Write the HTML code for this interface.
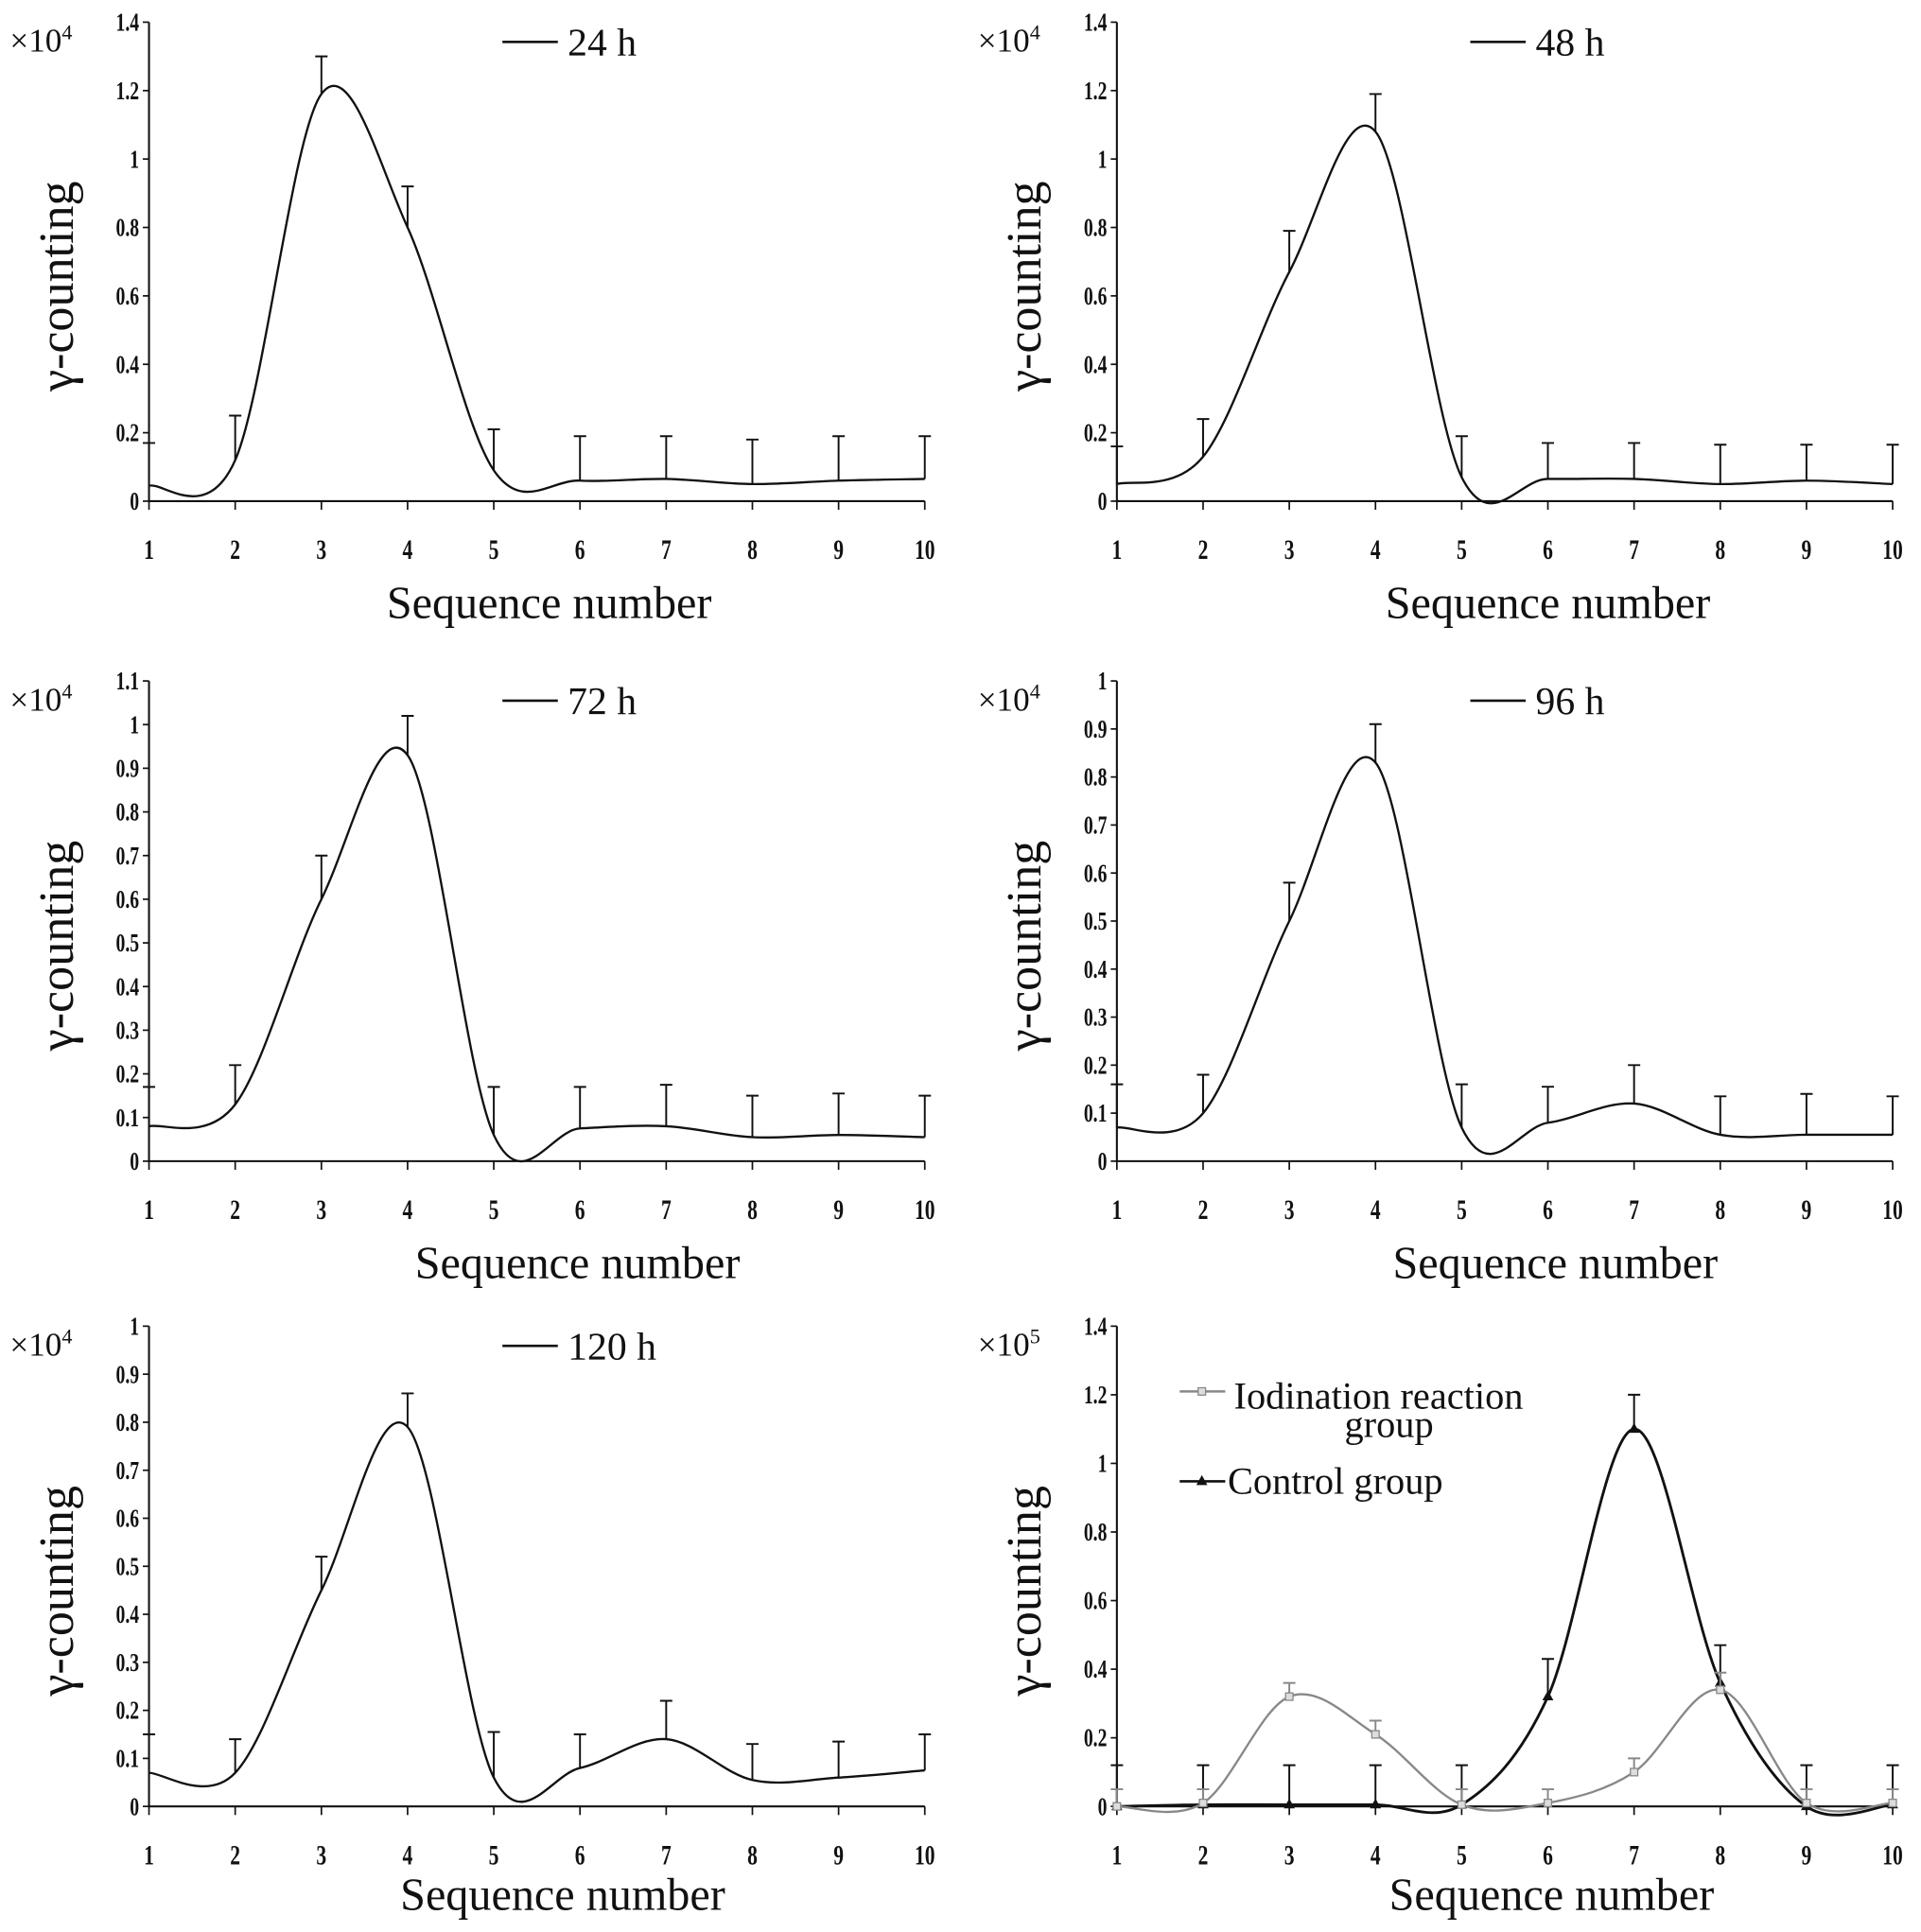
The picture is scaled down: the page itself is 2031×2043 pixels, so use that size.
<!DOCTYPE html>
<html><head><meta charset="utf-8"><style>
html,body{margin:0;padding:0;background:#fff}
svg{display:block}
text{font-family:"Liberation Serif",serif;fill:#111}
</style></head><body>
<svg id="fig" width="2031" height="2043" viewBox="0 0 1560 1569" preserveAspectRatio="none" xmlns="http://www.w3.org/2000/svg"></svg>
<script>
const categories=[1,2,3,4,5,6,7,8,9,10];
const p1Values=[0.045,0.12,1.19,0.8,0.09,0.06,0.065,0.05,0.06,0.065];
const p1Err=[0.17,0.25,1.3,0.92,0.21,0.19,0.19,0.18,0.19,0.19];
const p2Values=[0.05,0.13,0.67,1.08,0.07,0.065,0.065,0.05,0.06,0.05];
const p2Err=[0.16,0.24,0.79,1.19,0.19,0.17,0.17,0.165,0.165,0.165];
const p3Values=[0.08,0.13,0.6,0.93,0.06,0.075,0.08,0.055,0.06,0.055];
const p3Err=[0.17,0.22,0.7,1.02,0.17,0.17,0.175,0.15,0.155,0.15];
const p4Values=[0.07,0.1,0.5,0.83,0.07,0.08,0.12,0.055,0.055,0.055];
const p4Err=[0.16,0.18,0.58,0.91,0.16,0.155,0.2,0.135,0.14,0.135];
const p5Values=[0.07,0.07,0.45,0.79,0.06,0.08,0.14,0.055,0.06,0.075];
const p5Err=[0.15,0.14,0.52,0.86,0.155,0.15,0.22,0.13,0.135,0.15];
const iodValues=[0,0.01,0.32,0.21,0.005,0.01,0.1,0.34,0.01,0.01];
const iodErr=[0.05,0.05,0.36,0.25,0.05,0.05,0.14,0.39,0.05,0.05];
const ctrlValues=[0,0.005,0.005,0.005,0.005,0.32,1.1,0.36,0,0.005];
const ctrlErr=[0.12,0.12,0.12,0.12,0.12,0.43,1.2,0.47,0.12,0.12];
const ticks14=[0,0.2,0.4,0.6,0.8,1,1.2,1.4];
const ticks11=[0,0.1,0.2,0.3,0.4,0.5,0.6,0.7,0.8,0.9,1,1.1];
const ticks10=[0,0.1,0.2,0.3,0.4,0.5,0.6,0.7,0.8,0.9,1];

const NS="http://www.w3.org/2000/svg";
const svg=document.getElementById('fig');
function el(tag,attrs,parent,txt){const e=document.createElementNS(NS,tag);for(const k in attrs)e.setAttribute(k,attrs[k]);if(txt!==undefined)e.textContent=txt;(parent||svg).appendChild(e);return e;}
function fmt(v){return v===0?'0':String(+v.toFixed(1));}
function spline(pts){let d='M'+pts[0][0]+','+pts[0][1];for(let i=0;i<pts.length-1;i++){const p0=pts[Math.max(0,i-1)],p1=pts[i],p2=pts[i+1],p3=pts[Math.min(pts.length-1,i+2)];const c1x=p1[0]+(p2[0]-p0[0])/6,c1y=p1[1]+(p2[1]-p0[1])/6,c2x=p2[0]-(p3[0]-p1[0])/6,c2y=p2[1]-(p3[1]-p1[1])/6;d+=` C${c1x},${c1y} ${c2x},${c2y} ${p2[0]},${p2[1]}`;}return d;}

function panel(name,x0,x1,y0,yTop,ticks,yMax,exp,legendTxt,series,titleOff,titleX){
  const g=el('g',{},svg);
  
  
  const xs=c=>x0+(c-1)*(x1-x0)/9;
  const ys=v=>y0-v*(y0-yTop)/yMax;
  const ax=el('path',{d:`M${x0},${yTop} V${y0} H${x1}`,stroke:'#111','stroke-width':1.6,fill:'none'},g);
  
  ticks.forEach(t=>{el('line',{x1:x0-5,x2:x0,y1:ys(t),y2:ys(t),stroke:'#111','stroke-width':1.3},g);
    const tl=el('text',{x:x0-8,y:ys(t)+7,'text-anchor':'end','font-size':21,'font-weight':'bold',transform:`translate(${x0-8},${ys(t)}) scale(0.72,1) translate(${-(x0-8)},${-ys(t)})`},g,fmt(t));
    });
  categories.forEach(c=>{el('line',{x1:xs(c),x2:xs(c),y1:y0,y2:y0+7,stroke:'#111','stroke-width':1.3},g);
    const tl=el('text',{x:xs(c),y:y0+47,'text-anchor':'middle','font-size':23,'font-weight':'bold',transform:`translate(${xs(c)},0) scale(0.72,1) translate(${-xs(c)},0)`},g,String(c));
    });
  const xl=el('text',{x:titleX,y:y0+(titleOff||95),'text-anchor':'middle','font-size':37},g,'Sequence number');
  
  const cy=(y0+yTop)/2+20;
  const yl=el('text',{x:0,y:0,'text-anchor':'middle','font-size':40,transform:`translate(${x0-62},${cy}) rotate(-90)`},g,'γ-counting');
  
  const ex=el('text',{x:x0-113,y:yTop+24,'font-size':27},g);
  
  ex.textContent='×10';el('tspan',{'font-size':17,dy:-10},ex,exp);
  series.forEach(s=>{
    s.err.forEach((e,i)=>{const x=xs(categories[i]);
      const eb=el('path',{d:`M${x},${ys(s.vals[i])} V${ys(e)} M${x-5},${ys(e)} H${x+5}`,stroke:s.color,'stroke-width':1.5,fill:'none'},g);
      });
    const pts=s.vals.map((v,i)=>[xs(categories[i]),ys(v)]);
    const ln=el('path',{d:spline(pts),stroke:s.color,'stroke-width':s.w||1.8,fill:'none'},g);
    
    if(s.marker){pts.forEach(p=>{let m;
      if(s.marker==='sq')m=el('rect',{x:p[0]-3,y:p[1]-3,width:6,height:6,fill:'#ddd',stroke:s.color,'stroke-width':1},g);
      else m=el('path',{d:`M${p[0]},${p[1]-5} L${p[0]+4.5},${p[1]+3} L${p[0]-4.5},${p[1]+3}Z`,fill:'#111'},g);
      });}
  });
  if(legendTxt){const lx=x0+287;const lg=el('g',{},g);
    
    el('line',{x1:lx,x2:lx+45,y1:yTop+16,y2:yTop+16,stroke:'#111','stroke-width':2},lg);
    el('text',{x:lx+53,y:yTop+27,'font-size':32},lg,legendTxt);}
  return {xs,ys,g};
}
panel('panel-24h',121,751,407,18,ticks14,1.4,'4','24 h',[{vals:p1Values,err:p1Err,color:'#111'}],95,446);
panel('panel-48h',907,1537,407,18,ticks14,1.4,'4','48 h',[{vals:p2Values,err:p2Err,color:'#111'}],95,1257);
panel('panel-72h',121,751,943,553,ticks11,1.1,'4','72 h',[{vals:p3Values,err:p3Err,color:'#111'}],95,469);
panel('panel-96h',907,1537,943,553,ticks10,1.0,'4','96 h',[{vals:p4Values,err:p4Err,color:'#111'}],95,1263);
panel('panel-120h',121,751,1467,1077,ticks10,1.0,'4','120 h',[{vals:p5Values,err:p5Err,color:'#111'}],84,457);
const p6=panel('panel-comparison',907,1537,1467,1077,ticks14,1.4,'5',null,[
  {vals:ctrlValues,err:ctrlErr,color:'#111',marker:'tri',w:2.2},
  {vals:iodValues,err:iodErr,color:'#888',marker:'sq',w:1.8}],84,1260);
const lg=el('g',{},p6.g);

el('line',{x1:958,x2:995,y1:1130,y2:1130,stroke:'#888','stroke-width':2},lg);
el('rect',{x:973,y:1127,width:6,height:6,fill:'#ddd',stroke:'#888'},lg);
el('text',{x:1002,y:1144,'font-size':31},lg,'Iodination reaction');
el('text',{x:1128,y:1167,'font-size':31,'text-anchor':'middle'},lg,'group');
el('line',{x1:958,x2:995,y1:1203,y2:1203,stroke:'#111','stroke-width':2},lg);
el('path',{d:'M976,1198 L980.5,1206 L971.5,1206Z',fill:'#111'},lg);
el('text',{x:997,y:1213,'font-size':31},lg,'Control group');
</script>
</body></html>
